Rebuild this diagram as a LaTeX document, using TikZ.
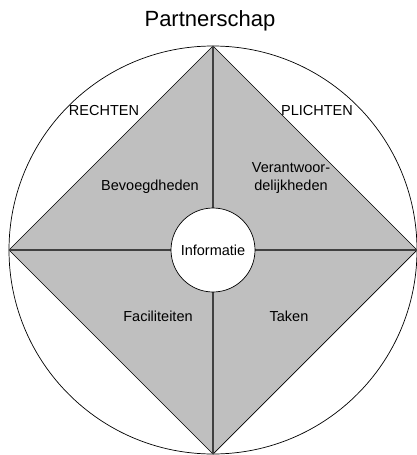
\documentclass[tikz,border=0pt]{standalone}
\usepackage{fontspec}
\setmainfont{Liberation Sans}
\colorlet{mygray}{black!25}
\colorlet{mydarkgray}{black!75}
\tikzstyle{outer}=[black,line width=0.7]
\tikzstyle{square}=[black,line width=0.7,fill=mygray]
\tikzstyle{cross}=[mydarkgray,line width=1.2]
\tikzstyle{label}=[anchor=base,inner sep=0,font=\fontsize{14.5}{17.5}\selectfont]
\tikzstyle{title}=[anchor=base,inner sep=0,font=\fontsize{22}{26}\selectfont]
\tikzstyle{core}=[circle,draw=black,line width=0.7,fill=white,minimum size=84,inner sep=0,
                  font=\fontsize{14.5}{17.5}\selectfont]

\begin{document}
\begin{tikzpicture}[x=1pt,y=-1pt]
  \useasboundingbox (0,0) rectangle (417,455);
  
  \def\R{204}
  \coordinate (C) at (213,250); % center
  \coordinate (N) at (213,46);  % top vertex
  \coordinate (S) at (213,454); % bottom vertex
  \coordinate (W) at (9,250);   % left vertex
  \coordinate (E) at (417,250); % right vertex
  
  % OUTER CIRCLE
  \draw[outer] (C) circle (\R);
  
  % SQUARE
  \draw[square] (N) -- (E) -- (S) -- (W) -- cycle;
  \draw[cross] (W) -- (E);
  \draw[cross] (N) -- (S);
  
  % CORE
  \node[core] (inf) at (C) {Informatie};
  
  % LABELS
  \node[title] (part) at (210,27) {Partnerschap};
  \node[label] (recht) at (104,115) {RECHTEN};
  \node[label] (plicht) at (317,115) {PLICHTEN};
  \node[label] (bev) at (150,190) {Bevoegdheden};
  \node[label,align=center] (ver) at (291,190) {Verantwoor-\\delijkheden};
  \node[label] (fac) at (158,321) {Faciliteiten};
  \node[label] (tak) at (289,321) {Taken};
  
\end{tikzpicture}
\end{document}
